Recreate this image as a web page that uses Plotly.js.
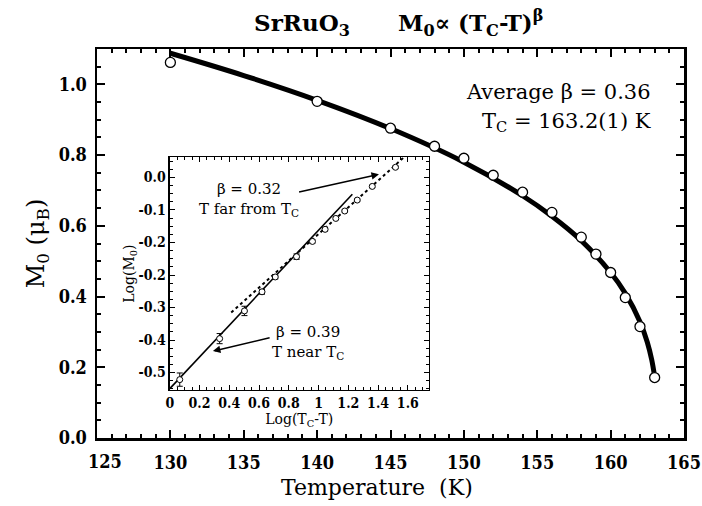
<!DOCTYPE html>
<html>
<head>
<meta charset="utf-8">
<script src="https://cdn.plot.ly/plotly-3.0.1.min.js"></script>
<style>html,body{margin:0;padding:0;background:#fff;}#chart{width:702px;height:506px;}</style>
</head>
<body>
<div id="chart"></div>
<script>
// Main panel: measured points
const mainT = [130, 140, 145, 148, 150, 152, 154, 156, 158, 159, 160, 161, 162, 163];
const mainM = [1.062, 0.952, 0.876, 0.825, 0.791, 0.743, 0.695, 0.638, 0.568, 0.520, 0.468, 0.397, 0.315, 0.171];
// Main panel: fitted curve
const fitT = [130, 135, 140, 145, 150, 154, 156, 158, 160, 161, 162, 162.5, 162.8, 163];
const fitM = [1.088, 1.025, 0.955, 0.875, 0.780, 0.685, 0.627, 0.558, 0.468, 0.409, 0.329, 0.271, 0.221, 0.173];
// Inset: log-log points
const logDT = [0.067, 0.335, 0.502, 0.620, 0.709, 0.852, 0.959, 1.044, 1.116, 1.176, 1.260, 1.361, 1.517];
const logM = [-0.518, -0.413, -0.342, -0.293, -0.255, -0.203, -0.164, -0.133, -0.105, -0.086, -0.058, -0.023, 0.026];
const logMerr = [0.017, 0.013, 0.012, 0.006, 0.005, 0.007, 0.004, 0.004, 0.003, 0.003, 0.003, 0.003, 0.003];
// Inset fit lines
const nearX = [0.0, 1.227];
const nearY = [-0.541, -0.043];
const farX = [0.413, 1.584];
const farY = [-0.346, 0.055];
// Tick labels
const mainXTickVals = [125, 130, 135, 140, 145, 150, 155, 160, 165];
const mainXTickText = ['125', '130', '135', '140', '145', '150', '155', '160', '165'];
const insetYTickVals = [0, -1/12, -2/12, -3/12, -4/12, -5/12, -6/12];
const insetYTickText = ['0.0', '-0.1', '-0.2', '-0.2', '-0.3', '-0.4', '-0.5'];
const insetXTickVals = [0, 0.2, 0.4, 0.6, 0.8, 1.0, 1.2, 1.4, 1.6];
const insetXTickText = ['0', '0.2', '0.4', '0.6', '0.8', '1', '1.2', '1.4', '1.6'];

const FONT = 'DejaVu Serif, serif';
const TICKFONT = 'DejaVu Serif Condensed, DejaVu Serif, serif';

// first x label is drawn a little to the right of its tick (as in the original), via an annotation
const drawnXTickText = mainXTickText.map((t, i) => i === 0 ? '' : t);

const traces = [
  {x: fitT, y: fitM, mode: 'lines', line: {color: '#000', width: 5, shape: 'spline'}, xaxis: 'x', yaxis: 'y', hoverinfo: 'skip'},
  {x: mainT, y: mainM, mode: 'markers', marker: {symbol: 'circle', size: 10, color: '#fff', line: {color: '#000', width: 1.3}}, xaxis: 'x', yaxis: 'y'},
  {x: nearX, y: nearY, mode: 'lines', line: {color: '#000', width: 1.6}, xaxis: 'x2', yaxis: 'y2'},
  {x: farX, y: farY, mode: 'lines', line: {color: '#000', width: 2, dash: 'dot'}, xaxis: 'x2', yaxis: 'y2'},
  {x: logDT, y: logM, mode: 'markers', marker: {symbol: 'circle', size: 6, color: '#fff', line: {color: '#000', width: 1}},
   error_y: {type: 'data', array: logMerr, visible: true, color: '#000', thickness: 1, width: 3}, xaxis: 'x2', yaxis: 'y2'}
];

const axMain = {showline: true, linecolor: '#000', linewidth: 2.5, mirror: 'allticks', ticks: 'inside', ticklen: 8, tickwidth: 2, tickcolor: '#000', showgrid: false, zeroline: false,
  ticklabeloverflow: 'allow',
  tickfont: {family: TICKFONT, size: 18, color: '#000', weight: 'bold'}};

const layout = {
  width: 702, height: 506,
  margin: {l: 97, r: 18, t: 49, b: 68},
  paper_bgcolor: '#fff', plot_bgcolor: '#fff',
  showlegend: false,
  title: {text: '<b>SrRuO<sub>3</sub>      M<sub>0</sub>∝ (T<sub>C</sub>-T)<sup>β</sup></b>', font: {family: FONT, size: 23, color: '#000'}, x: 0.568, xanchor: 'center', y: 0.955, yanchor: 'middle'},
  xaxis: Object.assign({}, axMain, {range: [125, 165], tickmode: 'array', tickvals: mainXTickVals, ticktext: drawnXTickText, domain: [0, 1], anchor: 'y',
    ticklabelstandoff: 7,
    minor: {tickmode: 'linear', tick0: 125, dtick: 1, ticklen: 4, tickwidth: 2, ticks: 'inside', tickcolor: '#000'}}),
  yaxis: Object.assign({}, axMain, {range: [0, 1.1], dtick: 0.2, tick0: 0, tickformat: '.1f', domain: [0, 1], anchor: 'x',
    ticklabelstandoff: 4,
    minor: {dtick: 0.05, ticklen: 4, tickwidth: 2, ticks: 'inside', tickcolor: '#000'},
    title: {text: 'M<sub>0</sub> (μ<sub>B</sub>)', font: {family: FONT, size: 24, color: '#000'}, standoff: 8}}),
  xaxis2: {domain: [0.124, 0.565], anchor: 'y2', range: [0, 1.74], showline: true, linecolor: '#000', linewidth: 1.3, mirror: 'allticks',
    ticks: 'inside', ticklen: 5, tickwidth: 1, tickcolor: '#000', showgrid: false, zeroline: false,
    tickmode: 'array', tickvals: insetXTickVals, ticktext: insetXTickText,
    minor: {tickmode: 'linear', tick0: 0, dtick: 0.05, ticklen: 3, tickwidth: 1, ticks: 'inside', tickcolor: '#000'},
    tickfont: {family: TICKFONT, size: 14, color: '#000', weight: 'bold'},
    title: {text: 'Log(T<sub>C</sub>-T)', font: {family: FONT, size: 14, color: '#000'}, standoff: 2}},
  yaxis2: {domain: [0.123, 0.722], anchor: 'x2', range: [-0.545, 0.052], showline: true, linecolor: '#000', linewidth: 1.3, mirror: 'allticks',
    ticks: 'inside', ticklen: 5, tickwidth: 1, tickcolor: '#000', showgrid: false, zeroline: false,
    tickmode: 'array', tickvals: insetYTickVals, ticktext: insetYTickText,
    minor: {tickmode: 'linear', tick0: 0, dtick: 1/48, ticklen: 3, tickwidth: 1, ticks: 'inside', tickcolor: '#000'},
    tickfont: {family: TICKFONT, size: 14, color: '#000', weight: 'bold'},
    title: {text: 'Log(M<sub>0</sub>)', font: {family: FONT, size: 14, color: '#000'}, standoff: 0}},
  annotations: [
    {xref: 'paper', yref: 'paper', x: 0.0135, y: -0.06, xanchor: 'center', yanchor: 'middle', showarrow: false,
     text: '<b>' + mainXTickText[0] + '</b>', font: {family: TICKFONT, size: 18, color: '#000'}},
    {xref: 'paper', yref: 'paper', x: 0.477, y: -0.128, xanchor: 'center', yanchor: 'middle', showarrow: false,
     text: 'Temperature  (K)', font: {family: FONT, size: 22, color: '#000'}},
    {xref: 'paper', yref: 'paper', x: 0.948, y: 0.89, xanchor: 'right', yanchor: 'middle', showarrow: false, align: 'center',
     text: 'Average β = 0.36', font: {family: FONT, size: 21, color: '#000'}},
    {xref: 'paper', yref: 'paper', x: 0.948, y: 0.812, xanchor: 'right', yanchor: 'middle', showarrow: false, align: 'center',
     text: 'T<sub>C</sub> = 163.2(1) K', font: {family: FONT, size: 21, color: '#000'}},
    {xref: 'x2', yref: 'y2', x: 0.53, y: -0.056, showarrow: false, align: 'center',
     text: 'β = 0.32<br>T far from T<sub>C</sub>', font: {family: FONT, size: 15, color: '#000'}},
    {xref: 'x2', yref: 'y2', x: 0.93, y: -0.424, showarrow: false, align: 'center',
     text: 'β = 0.39<br>T near T<sub>C</sub>', font: {family: FONT, size: 15, color: '#000'}},
    {xref: 'x2', yref: 'y2', axref: 'x2', ayref: 'y2', x: 1.406, y: 0.008, ax: 0.859, ay: -0.038, text: '', showarrow: true,
     arrowhead: 2, arrowsize: 1, arrowwidth: 1.5, arrowcolor: '#000'},
    {xref: 'x2', yref: 'y2', axref: 'x2', ayref: 'y2', x: 0.290, y: -0.445, ax: 0.681, ay: -0.410, text: '', showarrow: true,
     arrowhead: 2, arrowsize: 1, arrowwidth: 1.5, arrowcolor: '#000'}
  ]
};

Plotly.newPlot('chart', traces, layout, {displayModeBar: false, staticPlot: true});
</script>
</body>
</html>
